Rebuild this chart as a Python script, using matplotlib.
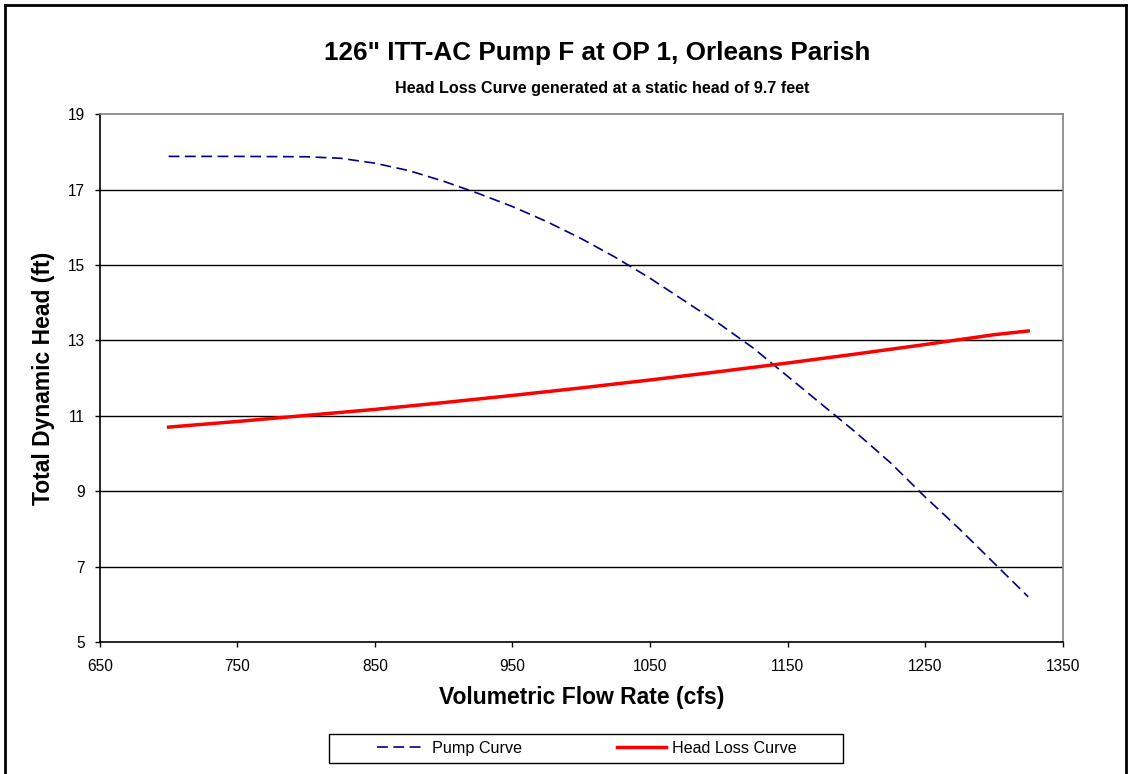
import matplotlib
matplotlib.use("Agg")
import matplotlib.pyplot as plt
from matplotlib.lines import Line2D
from matplotlib.patches import Rectangle

plt.rcParams["font.family"] = ["Liberation Sans", "DejaVu Sans"]

# pump curve
pump_q = [700, 750, 800, 825, 850, 875, 900, 925, 950, 975, 1000, 1025,
          1050, 1075, 1100, 1125, 1150, 1175, 1200, 1225, 1250, 1275, 1300, 1325]
pump_h = [17.88, 17.88, 17.87, 17.83, 17.70, 17.50, 17.22, 16.90, 16.55, 16.15, 15.70, 15.20,
          14.65, 14.05, 13.45, 12.80, 12.05, 11.30, 10.55, 9.75, 8.85, 8.00, 7.10, 6.20]

# head loss curve
loss_q = [700, 750, 800, 850, 900, 950, 1000, 1050, 1100, 1150, 1200, 1250, 1300, 1325]
loss_h = [10.70, 10.85, 11.01, 11.17, 11.35, 11.54, 11.74, 11.95, 12.17, 12.40, 12.64, 12.89, 13.15, 13.25]

xticks = [650, 750, 850, 950, 1050, 1150, 1250, 1350]
yticks = [5, 7, 9, 11, 13, 15, 17, 19]

W, H = 1128, 774
fig = plt.figure(figsize=(W / 100, H / 100), dpi=100)
ax = fig.add_axes([0.0885, 0.1705, 0.8535, 0.682])

ax.plot(pump_q, pump_h, color="#000080", lw=1.2, ls=(0, (6.5, 3.3)), label="Pump Curve")
ax.plot(loss_q, loss_h, color="#FF0000", lw=2.5, label="Head Loss Curve")

ax.set_xlim(650, 1350)
ax.set_ylim(5, 19)
ax.set_xticks(xticks)
ax.set_yticks(yticks)
ax.tick_params(direction="out", length=3.5, width=1, labelsize=11.2, colors="black")
ax.tick_params(axis="x", pad=9)
ax.tick_params(axis="y", pad=7)
for y in yticks[1:-1]:
    ax.axhline(y, color="black", lw=1, zorder=0)

ax.spines["left"].set_color("black")
ax.spines["bottom"].set_color("black")
ax.spines["top"].set_color("#808080")
ax.spines["right"].set_color("#808080")
for sp in ax.spines.values():
    sp.set_linewidth(1.2)

ax.set_xlabel("Volumetric Flow Rate (cfs)", fontsize=16.5, fontweight="bold")
ax.set_ylabel("Total Dynamic Head (ft)", fontsize=16.5, fontweight="bold")
ax.xaxis.set_label_coords(0.5, (642 - 686) / 528)
ax.yaxis.set_label_coords((55 - 99.8) / 963, 0.5)

fig.text(597.5 / W, 1 - 60 / H, "126\" ITT-AC Pump F at OP 1, Orleans Parish", ha="center",
         va="baseline", fontsize=18.8, fontweight="bold")
fig.text(602 / W, 1 - 93.3 / H, "Head Loss Curve generated at a static head of 9.7 feet",
         ha="center", va="baseline", fontsize=11.6, fontweight="bold")

# legend box drawn separately so its padding matches
fig.add_artist(Rectangle((329 / W, 1 - 763 / H), (843 - 329) / W, 29 / H, fill=False,
                         edgecolor="black", lw=1, transform=fig.transFigure))
fig.legend(loc="center", bbox_to_anchor=(587 / W, 1 - 748.5 / H), ncol=2, fontsize=11.6,
           frameon=False, handlelength=3.0, handletextpad=0.4, columnspacing=5.9,
           borderpad=0)

# outer chart frame (bottom edge falls off the picture)
for xs, ys in [([0.0045, 0.0045], [0, 0.994]), ([0.0045, 0.998], [0.994, 0.994]),
               ([0.998, 0.998], [0.994, 0])]:
    fig.add_artist(Line2D(xs, ys, color="black", lw=2, transform=fig.transFigure))

fig.savefig("out.png", dpi=100)
